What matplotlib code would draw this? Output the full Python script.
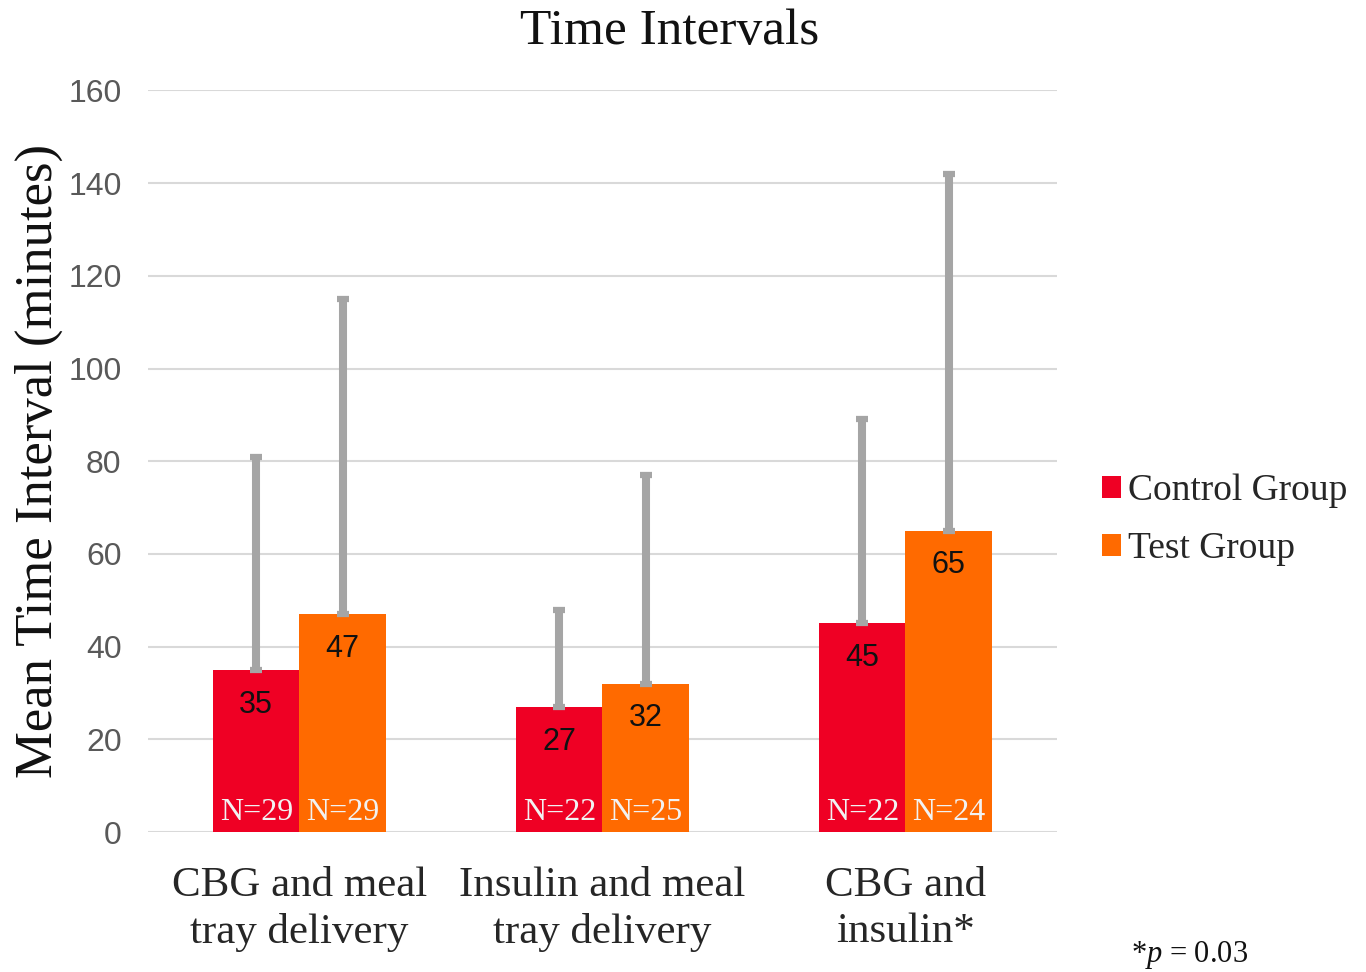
import matplotlib
matplotlib.use("Agg")
import matplotlib.pyplot as plt
import numpy as np

categories = ["CBG and meal\ntray delivery", "Insulin and meal\ntray delivery", "CBG and\ninsulin*"]
control_mean = [35, 27, 45]
test_mean = [47, 32, 65]
control_err = [46, 21, 44]
test_err = [68, 45, 77]
control_n = [29, 22, 22]
test_n = [29, 25, 24]

RED = "#EF0024"
ORANGE = "#FF6A00"
ERR = "#A5A5A5"
SERIF = "Liberation Serif"
SANS = "Liberation Sans"

plt.rcParams["mathtext.fontset"] = "custom"
plt.rcParams["mathtext.it"] = "Liberation Serif:italic"
plt.rcParams["mathtext.rm"] = "Liberation Serif"

fig = plt.figure(figsize=(13.66, 9.72), dpi=100)
ax = fig.add_axes([0.1083, 0.144, 0.6655, 0.763])

x = np.arange(len(categories))
w = 0.285
b1 = ax.bar(x - w / 2, control_mean, w, color=RED, label="Control Group", zorder=2)
b2 = ax.bar(x + w / 2, test_mean, w, color=ORANGE, label="Test Group", zorder=2)

# one-sided (upper) error bars
for xs, m, e in [(x - w / 2, control_mean, control_err), (x + w / 2, test_mean, test_err)]:
    ax.errorbar(xs, m, yerr=[np.zeros(len(m)), e], fmt="none", ecolor=ERR,
                elinewidth=5.8, capsize=4.6, capthick=4.5, zorder=3)

for bars, vals in [(b1, control_mean), (b2, test_mean)]:
    for r, v in zip(bars, vals):
        ax.annotate(f"{v}", (r.get_x() + r.get_width() / 2, v), xytext=(0, -25),
                    textcoords="offset points", ha="center", va="center",
                    fontsize=22, family=SANS, color="#111111", zorder=4)

for bars, ns in [(b1, control_n), (b2, test_n)]:
    for r, n in zip(bars, ns):
        ax.text(r.get_x() + r.get_width() / 2, 4.3, f"N={n}", ha="center", va="center",
                fontsize=23, family=SERIF, color="#F2F2F2", zorder=4)

ax.set_xlim(-0.5, 2.5)
ax.set_ylim(0, 160)
ax.set_yticks(np.arange(0, 161, 20))
ax.yaxis.grid(True, color="#D9D9D9", linewidth=1.5, zorder=0)
ax.set_axisbelow(True)
for s in ax.spines.values():
    s.set_visible(False)
ax.tick_params(axis="both", length=0)
ax.tick_params(axis="y", labelsize=23, labelcolor="#595959", pad=19)
for t in ax.get_yticklabels():
    t.set_family(SANS)
ax.set_xticks(x)
ax.set_xticklabels(categories, fontsize=31, family=SERIF, color="#262626", linespacing=1.25)
ax.tick_params(axis="x", pad=25)

ax.set_ylabel("Mean Time Interval (minutes)", fontsize=38, family=SERIF, color="#111111", labelpad=4)
fig.text(0.49, 0.967, "Time Intervals", fontsize=37, family=SERIF, color="#111111",
         ha="center", va="center")

leg = fig.legend(handles=[b1, b2], loc="center left", bbox_to_anchor=(0.782, 0.465),
                 frameon=False, prop={"family": SERIF, "size": 27},
                 handlelength=0.5, handleheight=0.5, handletextpad=0.2, labelspacing=0.62)
for t in leg.get_texts():
    t.set_color("#262626")

fig.text(0.828, 0.01, r"*$p$ = 0.03", fontsize=22, family=SERIF, color="#111111")

fig.savefig("out.png", dpi=100)
